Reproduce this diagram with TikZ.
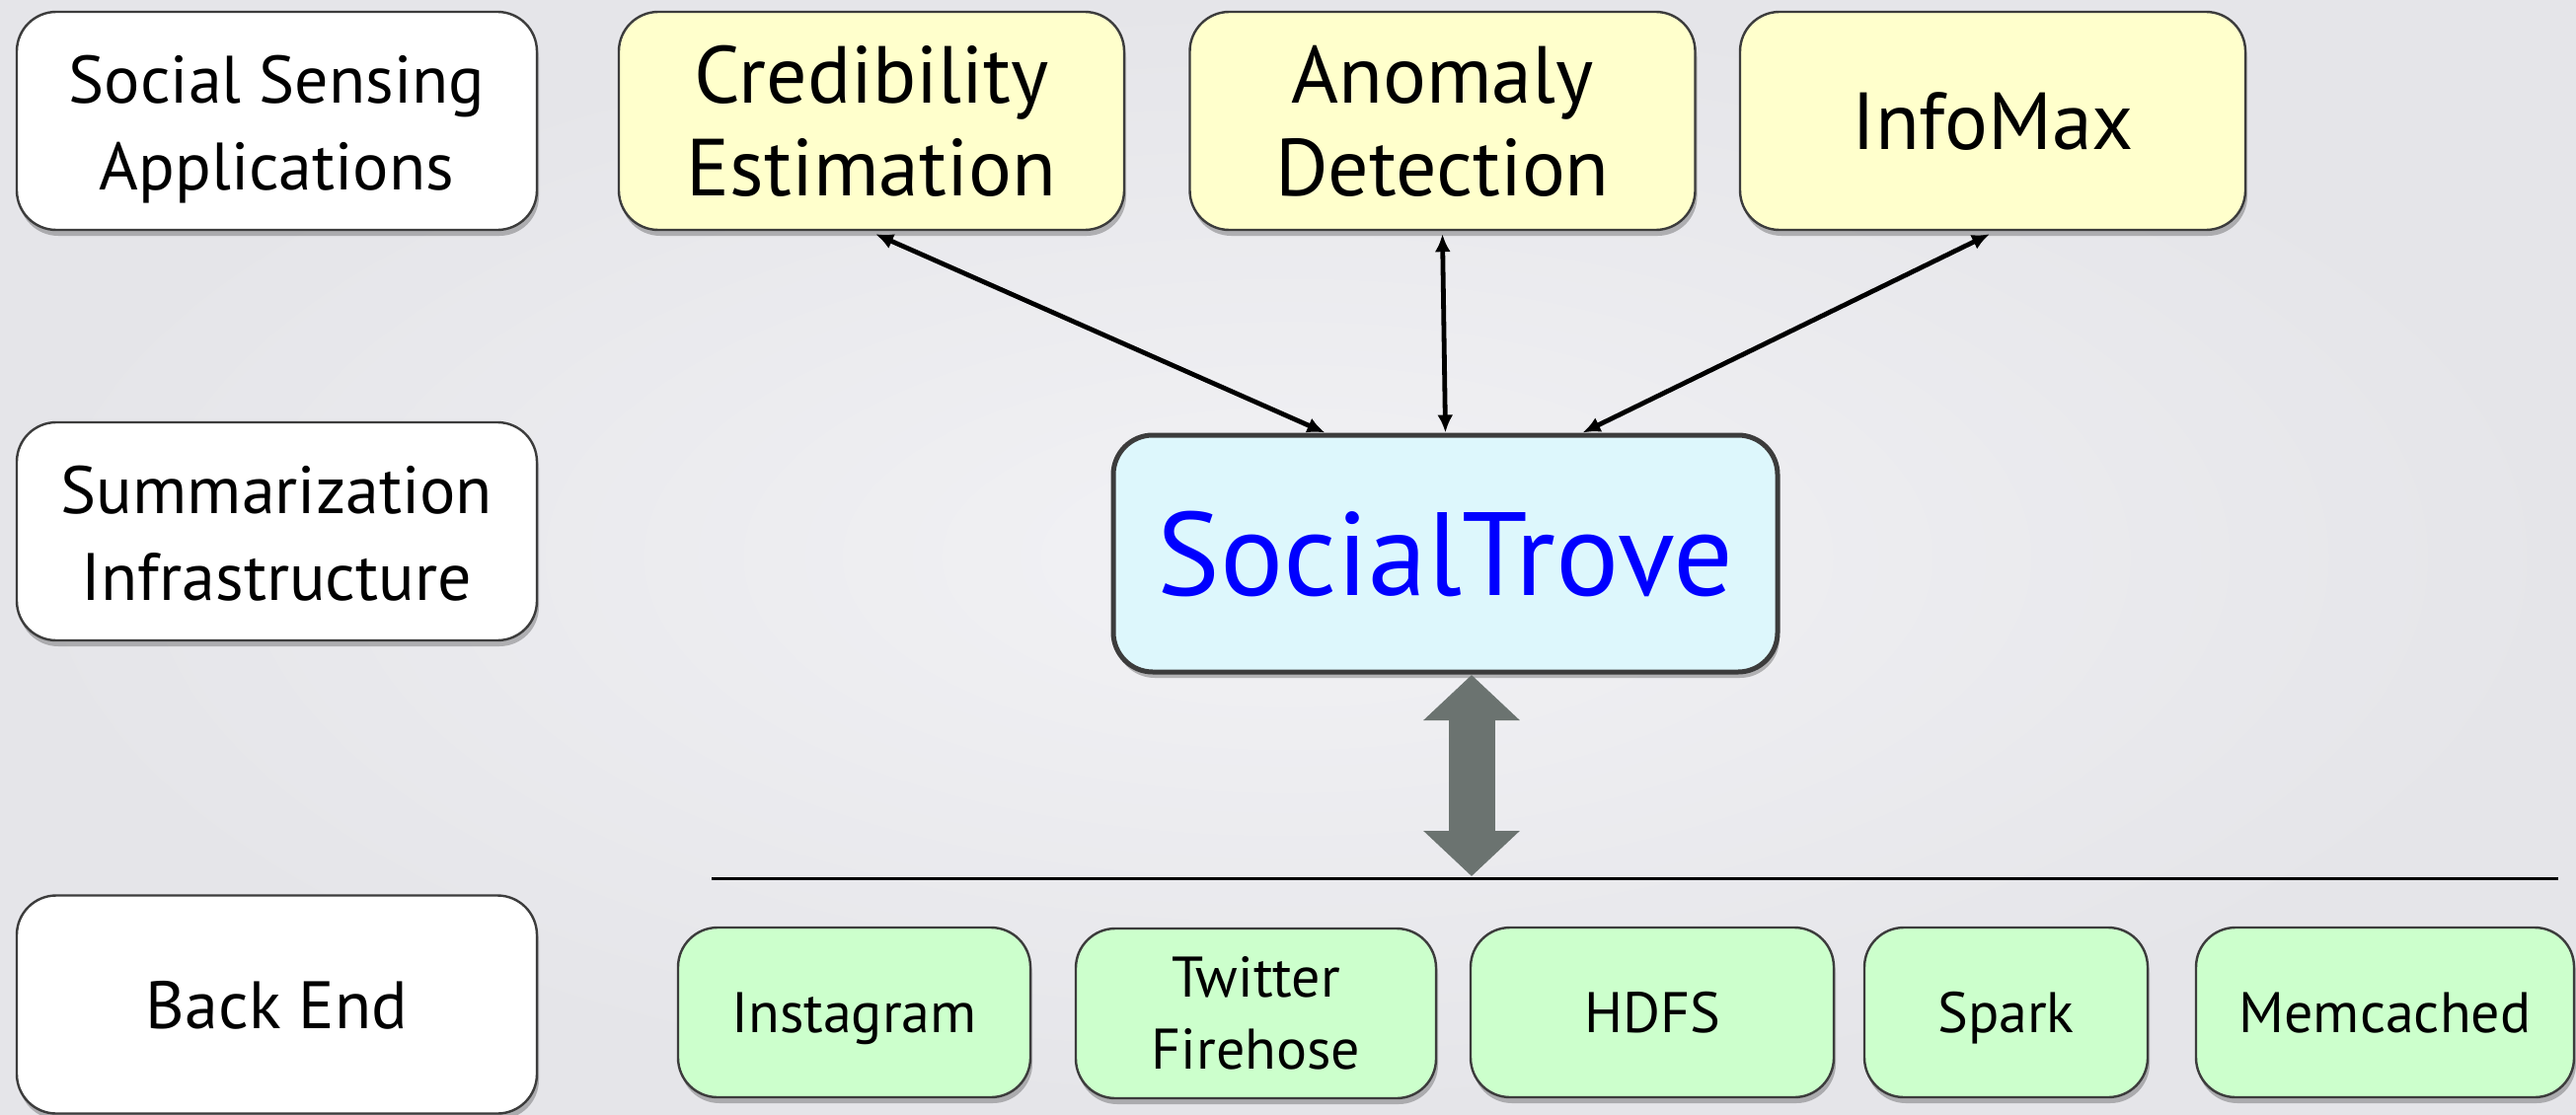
\documentclass[tikz,border=0pt]{standalone}
\usepackage{fontspec}
\setmainfont{PT Sans}
\usetikzlibrary{arrows.meta,shadows,calc}
\definecolor{bgin}{HTML}{F2F2F5}
\definecolor{bgout}{HTML}{E5E5E9}
\definecolor{yel}{HTML}{FFFFCC}
\definecolor{cyanbox}{HTML}{DDF7FC}
\definecolor{grn}{HTML}{CCFFCC}
\definecolor{dblgray}{HTML}{6B7370}
\definecolor{edgec}{HTML}{3C3C3C}
\newcommand\lowtext[1]{\raisebox{-4pt}[\height][\depth]{\begin{tabular}{@{}c@{}}#1\end{tabular}}}
\begin{document}
\begin{tikzpicture}[x=0.5pt,y=-0.5pt,
 box/.style={draw=edgec, line width=1.2pt, rounded corners=20pt, align=center, inner sep=0pt,
   drop shadow={shadow xshift=1pt, shadow yshift=-3pt, opacity=0.25, fill=black}},
 oneline/.style={text height=#1, text depth=0pt},
 lbl/.style={box, fill=white, minimum width=263.5pt, minimum height=110.5pt, font=\fontsize{34pt}{44pt}\selectfont},
 app/.style={box, fill=yel, minimum width=256pt, minimum height=110.5pt, font=\fontsize{41pt}{47pt}\selectfont},
 be/.style={box, fill=grn, minimum height=86pt, font=\fontsize{29pt}{36.5pt}\selectfont},
 conn/.style={line width=2.4pt, {Latex[length=9pt,width=8pt]}-{Latex[length=9pt,width=8pt]}}
]
\useasboundingbox (0,0) rectangle (2610,1129);
\shade[inner color=bgin, outer color=bgout] (0,0) rectangle (2610,1129);

\node[lbl] (l1) at (280.5,122.5) {\lowtext{Social Sensing\\Applications}};
\node[lbl] (l2) at (280.5,538.5) {\lowtext{Summarization\\Infrastructure}};
\node[lbl, oneline=24pt] (l3) at (280.5,1018) {Back End};

\node[app] (cred) at (883,122.5) {Credibility\\Estimation};
\node[app] (anom) at (1461.5,122.5) {Anomaly\\Detection};
\node[app, oneline=29pt] (info) at (2019,122.5) {InfoMax};

\node[box, oneline=42pt, fill=cyanbox, line width=2.5pt, minimum width=336.5pt, minimum height=120pt,
  font=\fontsize{60pt}{70pt}\selectfont, text=blue] (st) at (1464.5,561) {SocialTrove};

\node[be, oneline=20.5pt, minimum width=178.5pt] (ig) at (865.5,1026) {Instagram};
\node[be, minimum width=182.5pt] (tw) at (1272.5,1027) {Twitter\\Firehose};
\node[be, oneline=20.5pt, minimum width=184pt] (hdfs) at (1674,1026) {HDFS};
\node[be, oneline=20.5pt, minimum width=143.5pt] (spark) at (2032.5,1026) {Spark};
\node[be, oneline=20.5pt, minimum width=191.5pt] (mc) at (2416.5,1026) {Memcached};

\coordinate (h1) at (721,890);
\coordinate (h2) at (2592,890);
\draw[line width=1.5pt] (h1) -- (h2);

\coordinate (dtop) at (1491,684);
\coordinate (dbot) at (1491,888);
\draw[dblgray, line width=23.5pt, {Triangle[width=47.5pt,length=23pt]}-{Triangle[width=47.5pt,length=23pt]}] (dtop) -- (dbot);

\draw[conn] ($(cred.south)+(4,3)$) -- ($(st.north west)+(217,0)$);
\draw[conn] ($(anom.south)+(0,3)$) -- (st.north);
\draw[conn] ($(info.south)+(-3,3)$) -- ($(st.north west)+(478,0)$);
\end{tikzpicture}
\end{document}
